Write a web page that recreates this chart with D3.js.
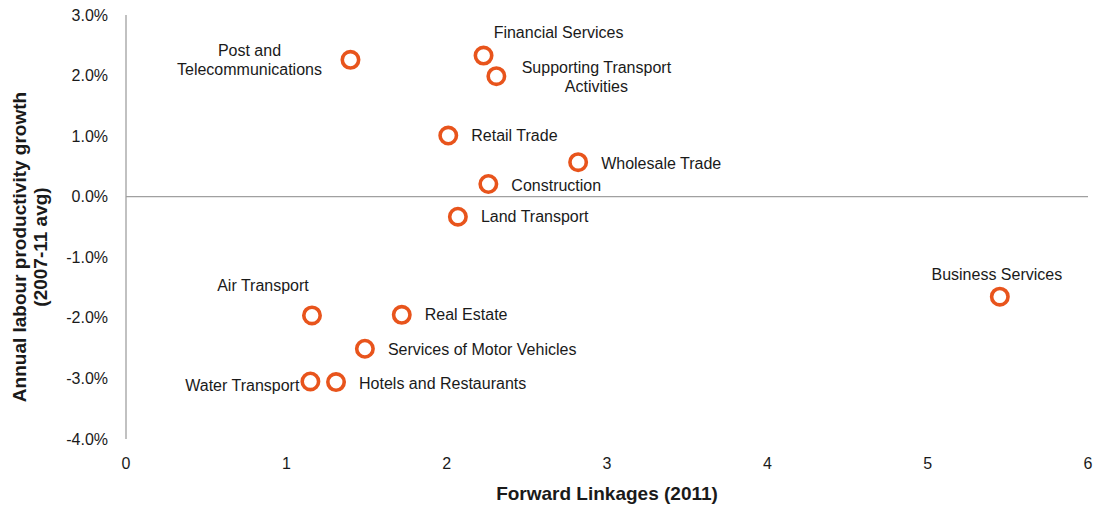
<!DOCTYPE html>
<html>
<head>
<meta charset="utf-8">
<script src="https://cdn.jsdelivr.net/npm/d3@7"></script>
<style>
  html, body { margin: 0; padding: 0; background: #fff; }
  svg { display: block; font-family: "Liberation Sans", Arial, sans-serif; }
</style>
</head>
<body>
<svg id="chart" width="1096" height="506"></svg>
<script>
const sectors = ["Post and Telecommunications", "Financial Services", "Supporting Transport Activities",
  "Retail Trade", "Wholesale Trade", "Construction", "Land Transport", "Business Services",
  "Air Transport", "Real Estate", "Services of Motor Vehicles", "Water Transport", "Hotels and Restaurants"];
const forwardLinkages = [1.40, 2.23, 2.31, 2.01, 2.82, 2.26, 2.07, 5.45, 1.16, 1.72, 1.49, 1.15, 1.31];
const productivityGrowth = [2.26, 2.33, 1.99, 1.01, 0.57, 0.21, -0.33, -1.65, -1.96, -1.95, -2.51, -3.05, -3.06];
const xTicks = [0, 1, 2, 3, 4, 5, 6];
const yTicks = [3, 2, 1, 0, -1, -2, -3, -4];
const xTitle = "Forward Linkages (2011)";
const yTitle = ["Annual labour productivity growth", "(2007-11 avg)"];

// label placement: [lines, dx, dy, anchor]
const labelPlacement = [
  [["Post and", "Telecommunications"], -101, -9, "middle"],
  [["Financial Services"], 75, -23, "middle"],
  [["Supporting Transport", "Activities"], 100, -9, "middle"],
  [["Retail Trade"], 23, 0, "start"],
  [["Wholesale Trade"], 23, 1, "start"],
  [["Construction"], 23, 1, "start"],
  [["Land Transport"], 23, 0, "start"],
  [["Business Services"], -3, -22, "middle"],
  [["Air Transport"], -49, -30, "middle"],
  [["Real Estate"], 23, 0, "start"],
  [["Services of Motor Vehicles"], 23, 1, "start"],
  [["Water Transport"], -11, 4, "end"],
  [["Hotels and Restaurants"], 23, 1, "start"]
];

const svg = d3.select("#chart");
const x = d3.scaleLinear().domain([0, 6]).range([126, 1088]);
const y = d3.scaleLinear().domain([-4, 3]).range([439, 15]);
const textColor = "#1a1a1a";
const axisColor = "#a0a0a0";
const orange = "#e8541c";

// y axis line
svg.append("line").attr("x1", x(0)).attr("x2", x(0)).attr("y1", y(3)).attr("y2", y(-4))
  .attr("stroke", axisColor).attr("stroke-width", 1.3);
// zero line
svg.append("line").attr("x1", x(0)).attr("x2", x(6)).attr("y1", y(0)).attr("y2", y(0))
  .attr("stroke", axisColor).attr("stroke-width", 1.3);

// y tick labels
svg.append("g").selectAll("text").data(yTicks).join("text")
  .attr("x", 108).attr("y", d => y(d)).attr("dy", "0.35em")
  .attr("text-anchor", "end").attr("font-size", 16).attr("fill", textColor)
  .text(d => d.toFixed(1) + "%");

// x tick labels
svg.append("g").selectAll("text").data(xTicks).join("text")
  .attr("x", d => x(d)).attr("y", 469)
  .attr("text-anchor", "middle").attr("font-size", 16).attr("fill", textColor)
  .text(d => d);

// axis titles
svg.append("text").attr("x", 607).attr("y", 500).attr("text-anchor", "middle")
  .attr("font-size", 19).attr("font-weight", "bold").attr("fill", textColor).text(xTitle);
const yt = svg.append("text").attr("transform", "translate(0,247) rotate(-90)")
  .attr("text-anchor", "middle").attr("font-size", 19).attr("font-weight", "bold").attr("fill", textColor);
yTitle.forEach((t, i) => yt.append("tspan").attr("x", 0).attr("y", 26 + i * 21).text(t));

// points
const data = sectors.map((s, i) => ({ s, fx: forwardLinkages[i], g: productivityGrowth[i], p: labelPlacement[i] }));
svg.append("g").selectAll("circle").data(data).join("circle")
  .attr("cx", d => x(d.fx)).attr("cy", d => y(d.g)).attr("r", 8.2)
  .attr("fill", "#fff").attr("stroke", orange).attr("stroke-width", 3.6);

// labels
const lg = svg.append("g");
data.forEach(d => {
  const [lines, dx, dy, anchor] = d.p;
  const t = lg.append("text").attr("font-size", 16).attr("fill", textColor).attr("text-anchor", anchor);
  lines.forEach((ln, i) => t.append("tspan")
    .attr("x", x(d.fx) + dx).attr("y", y(d.g) + dy + i * 19).attr("dy", "0.35em").text(ln));
});
</script>
</body>
</html>
